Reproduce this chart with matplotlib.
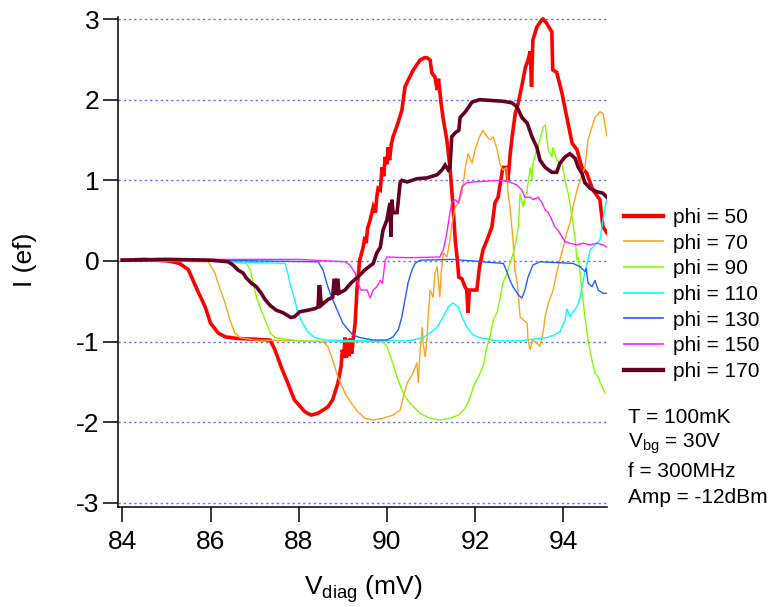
import matplotlib
matplotlib.use("Agg")
import matplotlib.pyplot as plt
from matplotlib.lines import Line2D

plt.rcParams['font.family'] = ['Liberation Sans', 'DejaVu Sans']
plt.rcParams['mathtext.fontset'] = 'custom'
plt.rcParams['mathtext.rm'] = 'Liberation Sans'
plt.rcParams['mathtext.it'] = 'Liberation Sans:italic'
plt.rcParams['axes.unicode_minus'] = False

# ---------------- data ----------------
x50 = [84.0, 84.5, 85.05, 85.3, 85.5, 85.7, 85.88, 86.0, 86.17, 86.33, 86.6, 87.0, 87.35, 87.46, 87.6, 87.75, 87.9, 88.14, 88.28, 88.43,
       88.66, 88.77, 88.89, 88.96, 88.99, 89.02, 89.05, 89.08, 89.11, 89.14, 89.17, 89.2, 89.24, 89.28, 89.32, 89.38, 89.46, 89.5, 89.53, 89.56,
       89.62, 89.69, 89.74, 89.77, 89.8, 89.85, 89.89, 89.93, 89.96, 90.0, 90.03, 90.06, 90.1, 90.14, 90.25, 90.34, 90.41, 90.48, 90.6, 90.75,
       90.85, 90.91, 90.98, 91.02, 91.09, 91.14, 91.17, 91.2, 91.23, 91.28, 91.36, 91.43, 91.5, 91.55, 91.6, 91.63, 91.7, 91.77, 91.81, 91.84,
       91.87, 91.93, 92.04, 92.1, 92.18, 92.27, 92.38, 92.45, 92.52, 92.63, 92.72, 92.74, 92.77, 92.79, 92.84, 92.91, 92.98, 93.07, 93.14, 93.2,
       93.25, 93.28, 93.31, 93.4, 93.51, 93.54, 93.62, 93.74, 93.76, 93.85, 93.97, 94.08, 94.2, 94.31, 94.42, 94.53, 94.67, 94.83, 94.9, 94.99]
y50 = [0.01, 0.02, 0.0, -0.03, -0.11, -0.36, -0.57, -0.77, -0.89, -0.94, -0.96, -0.97, -0.98, -1.1, -1.31, -1.51, -1.72, -1.87, -1.91, -1.89,
       -1.81, -1.72, -1.51, -1.31, -1.1, -1.2, -0.95, -1.2, -0.97, -1.18, -0.96, -1.15, -0.95, -0.77, -0.36, 0.0, 0.17, 0.3, 0.22, 0.4,
       0.51, 0.67, 0.6, 0.79, 0.9, 0.88, 1.16, 1.05, 1.29, 1.2, 1.41, 1.25, 1.45, 1.54, 1.71, 1.87, 2.16, 2.24, 2.37, 2.49,
       2.52, 2.52, 2.49, 2.33, 2.28, 2.12, 2.26, 2.1, 1.95, 1.75, 1.5, 1.16, 0.67, 0.26, 0.0, -0.2, -0.22, -0.32, -0.36, -0.64,
       -0.36, -0.36, -0.36, -0.07, 0.14, 0.26, 0.42, 0.72, 0.79, 1.16, 1.16, 1.0, 1.15, 1.3, 1.54, 1.83, 1.96, 2.2, 2.4, 2.49,
       2.6, 2.16, 2.74, 2.9, 2.99, 3.0, 2.95, 2.84, 2.37, 2.34, 2.08, 1.78, 1.46, 1.38, 1.16, 1.09, 0.88, 0.76, 0.42, 0.35]

x70 = [84.0, 85.0, 85.95, 86.1, 86.17, 86.33, 86.44, 86.55, 86.67, 87.0, 88.0, 88.55, 88.66, 88.77, 88.89, 89.05, 89.19, 89.34, 89.5, 89.69,
       89.91, 90.14, 90.3, 90.37, 90.46, 90.59, 90.68, 90.71, 90.75, 90.8, 90.82, 90.87, 90.91, 90.94, 90.98, 91.05, 91.09, 91.14, 91.2, 91.23,
       91.28, 91.36, 91.43, 91.47, 91.55, 91.63, 91.7, 91.78, 91.84, 91.93, 92.0, 92.1, 92.18, 92.27, 92.34, 92.41, 92.5, 92.56, 92.63, 92.72,
       92.74, 92.79, 92.86, 92.9, 92.95, 93.02, 93.09, 93.18, 93.2, 93.25, 93.3, 93.4, 93.47, 93.54, 93.59, 93.66, 93.77, 93.85, 93.92, 94.0,
       94.08, 94.15, 94.22, 94.31, 94.38, 94.49, 94.56, 94.65, 94.72, 94.83, 94.9, 94.99]
y70 = [0.01, 0.0, -0.01, -0.15, -0.27, -0.52, -0.73, -0.89, -0.95, -0.98, -0.99, -1.0, -1.06, -1.23, -1.44, -1.64, -1.76, -1.87, -1.95, -1.97,
       -1.95, -1.91, -1.85, -1.69, -1.51, -1.39, -1.26, -1.51, -1.14, -0.82, -1.02, -1.19, -0.94, -0.64, -0.36, -0.45, -0.15, -0.07, -0.45, -0.15,
       0.1, 0.05, 0.26, 0.45, 0.67, 0.72, 0.84, 1.16, 1.33, 1.21, 1.38, 1.54, 1.62, 1.54, 1.5, 1.54, 1.38, 1.21, 1.13, 1.16,
       0.88, 0.67, 0.26, -0.11, -0.24, -0.69, -0.73, -0.77, -0.98, -1.1, -0.98, -1.02, -1.06, -0.89, -0.69, -0.52, -0.36, -0.15, 0.01, 0.17,
       0.35, 0.47, 0.67, 0.88, 1.0, 1.16, 1.5, 1.66, 1.78, 1.85, 1.83, 1.55]

x90 = [84.0, 85.0, 86.0, 86.81, 86.9, 86.97, 87.04, 87.12, 87.24, 87.35, 87.46, 88.0, 89.0, 89.91, 90.0, 90.11, 90.23, 90.37, 90.52, 90.75,
       90.98, 91.2, 91.43, 91.63, 91.78, 91.89, 91.96, 92.07, 92.18, 92.27, 92.34, 92.41, 92.5, 92.56, 92.63, 92.72, 92.84, 92.9, 92.98, 93.02,
       93.09, 93.18, 93.25, 93.29, 93.31, 93.4, 93.47, 93.54, 93.59, 93.66, 93.74, 93.77, 93.85, 93.97, 94.04, 94.11, 94.2, 94.27, 94.31, 94.34,
       94.42, 94.49, 94.56, 94.65, 94.72, 94.79, 94.88, 94.95]
y90 = [0.01, 0.0, 0.01, -0.03, -0.11, -0.27, -0.45, -0.57, -0.73, -0.89, -0.95, -0.99, -1.0, -1.0, -1.06, -1.23, -1.44, -1.64, -1.76, -1.89,
       -1.95, -1.97, -1.95, -1.91, -1.82, -1.69, -1.56, -1.44, -1.31, -1.06, -0.94, -0.73, -0.64, -0.48, -0.27, -0.15, 0.05, 0.17, 0.42, 0.84,
       0.67, 0.88, 1.16, 1.0, 1.21, 1.38, 1.5, 1.66, 1.69, 1.38, 1.29, 1.41, 1.25, 1.21, 1.0, 0.84, 0.55, 0.26, 0.01, 0.05,
       -0.36, -0.69, -0.98, -1.23, -1.39, -1.44, -1.56, -1.64]

x110 = [84.0, 86.0, 87.69, 87.75, 87.82, 87.91, 87.98, 88.09, 88.21, 88.37, 88.6, 89.5, 90.5, 90.82, 90.98, 91.14, 91.28, 91.39, 91.5, 91.62,
        91.7, 91.81, 91.96, 92.11, 92.5, 93.0, 93.63, 93.77, 93.92, 94.04, 94.08, 94.15, 94.22, 94.31, 94.38, 94.45, 94.54, 94.61, 94.67, 94.76,
        94.83, 94.9, 94.99]
y110 = [0.01, 0.0, -0.03, -0.15, -0.32, -0.48, -0.64, -0.77, -0.88, -0.95, -0.98, -0.99, -0.99, -0.95, -0.89, -0.82, -0.69, -0.57, -0.52, -0.57,
        -0.69, -0.82, -0.92, -0.95, -0.99, -0.99, -0.95, -0.92, -0.88, -0.73, -0.59, -0.69, -0.63, -0.57, -0.45, -0.24, -0.03, 0.14, 0.17, 0.22,
        0.26, 0.51, 0.79]

x130 = [84.0, 86.0, 88.44, 88.55, 88.66, 88.77, 88.89, 89.0, 89.12, 89.23, 89.39, 89.69, 90.0, 90.14, 90.26, 90.34, 90.41, 90.48, 90.57, 90.64,
        90.75, 91.5, 92.64, 92.72, 92.79, 92.86, 92.98, 93.06, 93.13, 93.2, 93.31, 93.47, 94.22, 94.38, 94.49, 94.52, 94.56, 94.65, 94.72, 94.79,
        94.9, 94.99]
y130 = [0.0, 0.01, -0.01, -0.11, -0.32, -0.48, -0.63, -0.77, -0.85, -0.92, -0.95, -0.98, -0.98, -0.94, -0.85, -0.69, -0.48, -0.27, -0.11, -0.03,
        0.01, 0.02, -0.03, -0.13, -0.24, -0.32, -0.42, -0.46, -0.36, -0.2, -0.05, -0.01, -0.03, -0.07, -0.13, -0.09, -0.27, -0.32, -0.24, -0.36,
        -0.4, -0.4]

x150 = [84.0, 86.0, 88.0, 89.05, 89.16, 89.28, 89.34, 89.41, 89.55, 89.62, 89.69, 89.77, 89.85, 89.9, 89.96, 90.0, 90.5, 91.2, 91.28, 91.36,
        91.43, 91.47, 91.55, 91.62, 91.7, 91.81, 91.96, 92.27, 92.56, 92.79, 92.95, 93.06, 93.13, 93.25, 93.31, 93.43, 93.52, 93.59, 93.66, 93.74,
        93.81, 93.88, 93.97, 94.04, 94.15, 94.31, 94.45, 94.61, 94.76, 94.9, 94.99]
y150 = [0.02, 0.02, 0.02, -0.01, -0.05, -0.15, -0.27, -0.36, -0.36, -0.46, -0.36, -0.32, -0.24, -0.28, 0.01, 0.05, 0.04, 0.05, 0.14, 0.35,
        0.6, 0.72, 0.76, 0.72, 0.92, 0.97, 0.98, 0.99, 1.0, 0.98, 0.94, 0.88, 0.79, 0.79, 0.76, 0.79, 0.72, 0.63, 0.6, 0.51,
        0.42, 0.38, 0.3, 0.24, 0.22, 0.2, 0.22, 0.2, 0.22, 0.2, 0.17]

x170 = [84.0, 85.0, 86.0, 86.4, 86.51, 86.62, 86.74, 86.81, 86.92, 87.04, 87.15, 87.24, 87.35, 87.49, 87.64, 87.82, 87.91, 88.02, 88.21, 88.37,
        88.44, 88.46, 88.48, 88.51, 88.66, 88.77, 88.8, 88.82, 88.84, 88.87, 88.89, 88.91, 89.05, 89.19, 89.34, 89.5, 89.69, 89.77, 89.85, 89.91,
        90.0, 90.07, 90.09, 90.11, 90.14, 90.23, 90.3, 90.34, 90.46, 90.68, 90.91, 91.14, 91.25, 91.32, 91.39, 91.43, 91.47, 91.55, 91.63, 91.66,
        91.78, 91.93, 92.1, 92.64, 92.84, 92.95, 93.06, 93.18, 93.29, 93.4, 93.47, 93.59, 93.74, 93.85, 93.92, 94.04, 94.15, 94.27, 94.34, 94.42,
        94.49, 94.61, 94.76, 94.9, 94.99]
y170 = [0.01, 0.02, 0.01, -0.01, -0.05, -0.11, -0.15, -0.21, -0.27, -0.32, -0.4, -0.48, -0.55, -0.61, -0.64, -0.7, -0.69, -0.63, -0.61, -0.59,
        -0.57, -0.32, -0.32, -0.55, -0.48, -0.45, -0.24, -0.24, -0.42, -0.24, -0.24, -0.4, -0.36, -0.27, -0.2, -0.11, -0.03, 0.1, 0.17, 0.38,
        0.51, 0.72, 0.3, 0.76, 0.6, 0.6, 0.97, 1.0, 0.98, 1.02, 1.03, 1.07, 1.13, 1.19, 1.13, 1.16, 1.54, 1.59, 1.62, 1.78,
        1.85, 1.97, 2.0, 1.98, 1.96, 1.91, 1.78, 1.71, 1.54, 1.41, 1.25, 1.16, 1.1, 1.1, 1.21, 1.29, 1.33, 1.27, 1.16, 1.09,
        0.97, 0.9, 0.86, 0.84, 0.79]

labels = ['phi = 50', 'phi = 70', 'phi = 90', 'phi = 110', 'phi = 130', 'phi = 150', 'phi = 170']
info_lines = ['T = 100mK', r'V$_{\mathrm{bg}}$ = 30V', 'f = 300MHz', 'Amp = -12dBm']
xticks = [84, 86, 88, 90, 92, 94]
yticks = [-3, -2, -1, 0, 1, 2, 3]

series = [(x50, y50), (x70, y70), (x90, y90), (x110, y110), (x130, y130), (x150, y150), (x170, y170)]
colors = ['#ff0000', '#ffa31a', '#80ff00', '#00ffff', '#1f5fff', '#ff20ff', '#660022']
widths = [2.6, 1.0, 1.0, 1.0, 1.0, 1.0, 2.6]

# ---------------- figure ----------------
W, H = 770, 607
fig = plt.figure(figsize=(W / 100, H / 100), dpi=100)
xmin, xmax = 83.902, 95.0
ymin, ymax = -3.05, 3.03
ax = fig.add_axes([118 / W, 100 / H, (607.4 - 118) / W, (507 - 16.6) / H])
ax.set_xlim(xmin, xmax)
ax.set_ylim(ymin, ymax)

for yv in yticks:
    ax.axhline(yv, color='#6a6aff', lw=1.0, ls=(0, (1.6, 2.2)), zorder=1)

handles = []
for (xs, ys), c, w, lab in zip(series, colors, widths, labels):
    ax.plot(xs, ys, color=c, lw=w, zorder=2, solid_joinstyle='miter')
    handles.append(Line2D([], [], color=c, lw=w * 1.2))

for s in ['top', 'right']:
    ax.spines[s].set_visible(False)
for s in ['left', 'bottom']:
    ax.spines[s].set_linewidth(1.1)
ax.set_xticks(xticks)
ax.set_yticks(yticks)
ax.tick_params(axis='both', direction='out', length=10.5, width=1.1, labelsize=19, color='black')
ax.tick_params(axis='x', pad=6)
ax.tick_params(axis='y', pad=3)

fig.text(25 / W, 1 - 260 / H, 'I (ef)', rotation=90, ha='center', va='center', fontsize=19)
fig.text(363 / W, 1 - 595 / H, r'V$_{\mathrm{diag}}$ (mV)', ha='center', va='baseline', fontsize=19)

leg = fig.legend(handles, labels, loc='upper left', bbox_to_anchor=(624 / W, 1 - 208 / H),
                 frameon=False, fontsize=15, handlelength=1.85, handletextpad=0.5,
                 labelspacing=0.32, borderpad=0, borderaxespad=0)

baselines = [423, 448, 477, 503]
for t, b in zip(info_lines, baselines):
    fig.text(628 / W, 1 - b / H, t, ha='left', va='baseline', fontsize=15)

fig.savefig('out.png', dpi=100)
